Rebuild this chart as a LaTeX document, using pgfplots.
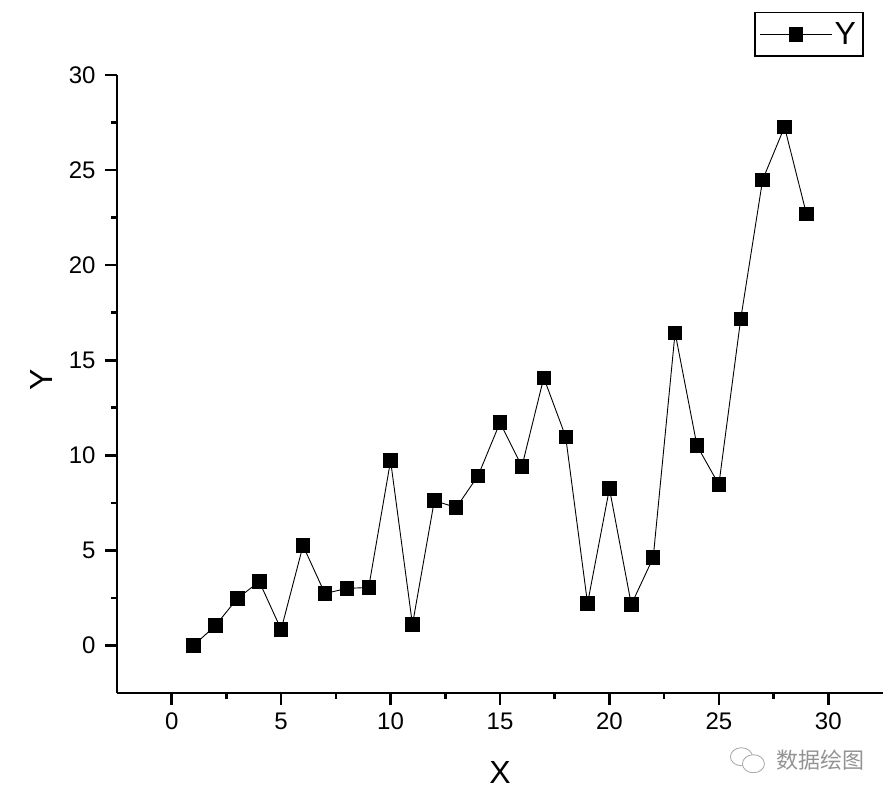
\documentclass[border=0pt]{standalone}
\usepackage{pgfplots}
\pgfplotsset{compat=1.18}
\usepackage{fontspec}
\setmainfont{Liberation Sans}
\newfontfamily\cjk{Noto Sans CJK SC}

\pgfplotstableread{
x y
1 0
2 1.05
3 2.47
4 3.36
5 0.84
6 5.25
7 2.73
8 3.00
9 3.05
10 9.72
11 1.10
12 7.62
13 7.25
14 8.93
15 11.72
16 9.41
17 14.08
18 10.98
19 2.21
20 8.25
21 2.15
22 4.62
23 16.45
24 10.51
25 8.46
26 17.18
27 24.49
28 27.27
29 22.70
}\datatable

\begin{document}
\begin{tikzpicture}
\path[use as bounding box] (-117pt,-104pt) rectangle (776pt,693pt);
\begin{axis}[
    at={(0pt,0pt)}, anchor=south west,
    scale only axis,
    width=766pt, height=618pt,
    xmin=-2.5, xmax=32.5,
    ymin=-2.5, ymax=30,
    xtick={0,5,...,30},
    ytick={0,5,...,30},
    minor tick num=1,
    axis x line*=bottom,
    axis y line*=left,
    tick align=outside,
    major tick length=12pt,
    minor tick length=6pt,
    axis line style={line width=2.8pt},
    every tick/.style={black, line width=2.6pt},
    /pgf/number format/assume math mode=true,
    tick label style={font=\fontsize{24}{24}\selectfont},
    xticklabel style={yshift=-4pt},
    yticklabel style={xshift=-6pt},
    xlabel={X},
    ylabel={Y},
    label style={font=\fontsize{32}{32}\selectfont},
    xlabel style={at={(axis description cs:0.5,-0.128)}, anchor=center},
    ylabel style={at={(axis description cs:-0.098,0.506)}, anchor=center, rotate=0},
    legend style={at={(axis description cs:0.8316,1.102)}, anchor=north west,
        draw=black, line width=1.5pt, font=\fontsize{32}{32}\selectfont,
        inner xsep=5pt, inner ysep=8pt},
    legend image code/.code={
        \draw[mark repeat=2,mark phase=2,#1] plot coordinates {(0pt,0pt) (36pt,0pt) (72pt,0pt)};
    },
    clip=false,
]
\addplot[black, line width=0.9pt, mark=square*, mark size=6.7pt,
    mark options={solid, fill=black}] table[x=x, y=y] {\datatable};
\addlegendentry{Y}

\node[font=\cjk\fontsize{22}{22}\selectfont, text=gray!85, anchor=center]
    at (axis description cs:0.919,-0.108) (wm) {数据绘图};
\begin{scope}[gray!70, line width=0.8pt]
\draw[fill=white] ([xshift=-32pt,yshift=3pt]wm.west) ellipse (11pt and 9pt);
\draw[fill=white] ([xshift=-20pt,yshift=-4pt]wm.west) ellipse (11pt and 9pt);
\end{scope}
\end{axis}
\end{tikzpicture}
\end{document}
